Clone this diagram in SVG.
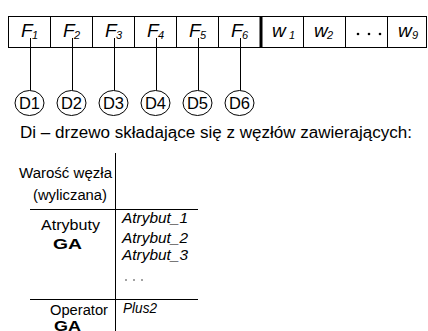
<svg xmlns="http://www.w3.org/2000/svg" width="428" height="331" viewBox="0 0 428 331">
  <style>
    text { font-family: "Liberation Sans", Arial, sans-serif; fill: #000; }
    .sym { font-size: 19px; font-style: italic; }
    .sub { font-size: 11px; font-style: italic; }
    .lbl { font-size: 16.5px; }
    .cap { font-size: 16px; }
    .tab { font-size: 14px; }
    .ita { font-size: 14px; font-style: italic; }
    .bold { font-size: 15px; font-weight: bold; }
    .line { stroke: #000; stroke-width: 1; fill: none; }
    .node { stroke: #000; stroke-width: 1; fill: #fff; }
  </style>

  <!-- chromosome row: F1..F6 | w1..w9 -->
  <g id="row">
    <rect class="line" x="8.5" y="16.5" width="418" height="31"/>
    <path class="line" d="M50.5 16.5V47.5M92.5 16.5V47.5M134.5 16.5V47.5M176.5 16.5V47.5M218.5 16.5V47.5M303.5 16.5V47.5M345.5 16.5V47.5M387.5 16.5V47.5"/>
    <line x1="261" y1="16.5" x2="261" y2="47.5" stroke="#000" stroke-width="3"/>
    <text class="sym" x="21" y="37">F</text><text class="sub" x="32" y="39">1</text>
    <text class="sym" x="63" y="37">F</text><text class="sub" x="74" y="39">2</text>
    <text class="sym" x="105" y="37">F</text><text class="sub" x="116" y="39">3</text>
    <text class="sym" x="147" y="37">F</text><text class="sub" x="158" y="39">4</text>
    <text class="sym" x="189" y="37">F</text><text class="sub" x="200" y="39">5</text>
    <text class="sym" x="231" y="37">F</text><text class="sub" x="242" y="39">6</text>
    <text class="sym" x="272" y="37">w</text><text class="sub" x="289" y="39">1</text>
    <text class="sym" x="314" y="37">w</text><text class="sub" x="327" y="39">2</text>
    <text class="sym" x="398" y="37">w</text><text class="sub" x="412" y="39">9</text>
    <circle cx="358" cy="34" r="1.3"/>
    <circle cx="369" cy="34" r="1.3"/>
    <circle cx="380" cy="34" r="1.3"/>
  </g>

  <!-- links from genes to trees -->
  <g id="connectors">
    <path class="line" d="M30.5 38V90.5M72.5 38V90.5M114.5 38V90.5M156.5 38V90.5M198.5 38V90.5M240.5 38V90.5"/>
  </g>

  <!-- tree nodes -->
  <g id="D1"><ellipse class="node" cx="29.5" cy="103" rx="14.5" ry="12.5"/><text class="lbl" x="29.5" y="109" text-anchor="middle">D1</text></g>
  <g id="D2"><ellipse class="node" cx="71.5" cy="103" rx="14.5" ry="12.5"/><text class="lbl" x="71.5" y="109" text-anchor="middle">D2</text></g>
  <g id="D3"><ellipse class="node" cx="113.5" cy="103" rx="14.5" ry="12.5"/><text class="lbl" x="113.5" y="109" text-anchor="middle">D3</text></g>
  <g id="D4"><ellipse class="node" cx="155.5" cy="103" rx="14.5" ry="12.5"/><text class="lbl" x="155.5" y="109" text-anchor="middle">D4</text></g>
  <g id="D5"><ellipse class="node" cx="197.5" cy="103" rx="14.5" ry="12.5"/><text class="lbl" x="197.5" y="109" text-anchor="middle">D5</text></g>
  <g id="D6"><ellipse class="node" cx="239.5" cy="103" rx="14.5" ry="12.5"/><text class="lbl" x="239.5" y="109" text-anchor="middle">D6</text></g>

  <text class="cap" x="20" y="138" textLength="392" lengthAdjust="spacingAndGlyphs">Di – drzewo składające się z węzłów zawierających:</text>

  <!-- node layout table -->
  <g id="table">
    <path class="line" d="M115.5 153V331M30 209.5H198M30 299.5H198"/>
    <text class="tab" x="19" y="178" textLength="93" lengthAdjust="spacingAndGlyphs">Warość węzła</text>
    <text class="tab" x="33" y="200" textLength="74" lengthAdjust="spacingAndGlyphs">(wyliczana)</text>
    <text class="tab" x="41" y="230" textLength="59" lengthAdjust="spacingAndGlyphs">Atrybuty</text>
    <text class="bold" x="53" y="249" textLength="29" lengthAdjust="spacingAndGlyphs">GA</text>
    <text class="ita" x="122" y="223" textLength="66" lengthAdjust="spacingAndGlyphs">Atrybut_1</text>
    <text class="ita" x="122" y="243" textLength="66" lengthAdjust="spacingAndGlyphs">Atrybut_2</text>
    <text class="ita" x="122" y="260" textLength="66" lengthAdjust="spacingAndGlyphs">Atrybut_3</text>
    <circle cx="126" cy="280" r="0.7"/>
    <circle cx="134" cy="280" r="0.7"/>
    <circle cx="142" cy="280" r="0.7"/>
    <text class="tab" x="50" y="315" textLength="58" lengthAdjust="spacingAndGlyphs">Operator</text>
    <text class="ita" x="123" y="313" textLength="34" lengthAdjust="spacingAndGlyphs">Plus2</text>
    <text class="bold" x="54" y="331" font-size="14" textLength="27" lengthAdjust="spacingAndGlyphs">GA</text>
  </g>
</svg>
